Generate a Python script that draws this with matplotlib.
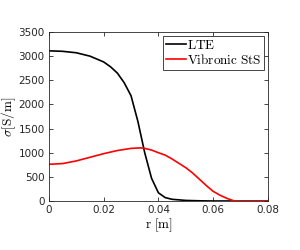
import matplotlib
matplotlib.use("Agg")
import matplotlib.pyplot as plt
import numpy as np

plt.rcParams["mathtext.fontset"] = "cm"

r_lte = [0, 0.005, 0.01, 0.015, 0.02, 0.0225, 0.025, 0.0275, 0.03, 0.0325, 0.035,
         0.0375, 0.04, 0.0425, 0.045, 0.05, 0.055, 0.06, 0.07, 0.08]
sigma_lte = [3110, 3100, 3070, 3000, 2880, 2780, 2650, 2450, 2180, 1650, 1000,
             470, 170, 70, 35, 12, 4, 0, 0, 0]

r_vib = [0, 0.005, 0.01, 0.015, 0.02, 0.025, 0.03, 0.0335, 0.035, 0.0375, 0.04,
         0.0425, 0.045, 0.0475, 0.05, 0.0525, 0.055, 0.0575, 0.06, 0.0625,
         0.065, 0.0675, 0.07, 0.08]
sigma_vib = [760, 775, 830, 905, 980, 1045, 1090, 1100, 1090, 1055, 1000,
             950, 870, 780, 690, 580, 450, 320, 200, 120,
             55, 5, 0, 0]

fig = plt.figure(figsize=(3.0, 2.5), dpi=100)
ax = fig.add_axes([0.163, 0.196, 0.73, 0.676])
ax.plot(r_lte, sigma_lte, color="black", lw=1.2, label=r"$\mathrm{LTE}$")
ax.plot(r_vib, sigma_vib, color="red", lw=1.2, label=r"$\mathrm{Vibronic\ StS}$")

ax.set_xlim(0, 0.08)
ax.set_ylim(0, 3500)
ax.set_xticks(np.arange(0, 0.081, 0.02))
ax.set_xticklabels(["0", "0.02", "0.04", "0.06", "0.08"])
ax.set_yticks(np.arange(0, 3501, 500))
ax.tick_params(direction="in", top=True, right=True, labelsize=7.5, length=3,
               width=0.6, colors="#262626", pad=3)
for s in ax.spines.values():
    s.set_linewidth(0.6)
    s.set_color("#262626")

ax.set_xlabel(r"$\mathrm{r\ [m]}$", fontsize=9.5, labelpad=1)
ax.set_ylabel(r"$\sigma\mathrm{[S/m]}$", fontsize=9.5, labelpad=0)

leg = ax.legend(loc="upper right", fontsize=9.5, handlelength=1.5, handletextpad=0.1,
                borderpad=0.2, labelspacing=0.1, fancybox=False, framealpha=1,
                borderaxespad=0.3)
leg.get_frame().set_edgecolor("#262626")
leg.get_frame().set_linewidth(0.6)

fig.savefig("out.png", dpi=100)
